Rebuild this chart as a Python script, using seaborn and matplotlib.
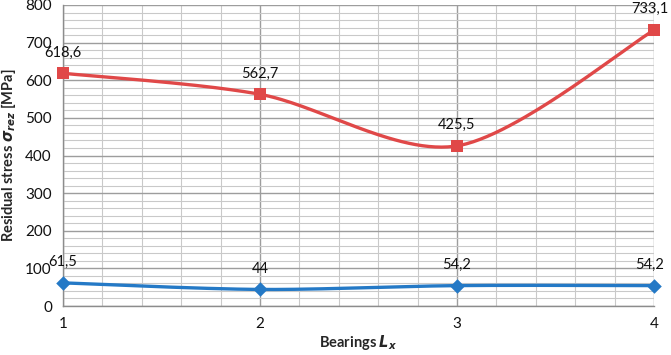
import numpy as np
import pandas as pd
import matplotlib
matplotlib.use("Agg")
import matplotlib.pyplot as plt
import seaborn as sns
from matplotlib.ticker import MultipleLocator

bearings = [1, 2, 3, 4]
red_values = [618.6, 562.7, 425.5, 733.1]
blue_values = [61.5, 44.0, 54.2, 54.2]
red_labels = ["618,6", "562,7", "425,5", "733,1"]
blue_labels = ["61,5", "44", "54,2", "54,2"]
y_ticks = [0, 100, 200, 300, 400, 500, 600, 700, 800]

RED = "#E04848"
BLUE = "#2479C6"

sns.set_theme(style="white")
plt.rcParams["font.family"] = ["Lato", "DejaVu Sans"]
plt.rcParams["mathtext.fontset"] = "custom"
plt.rcParams["mathtext.it"] = "DejaVu Sans:italic:bold"
plt.rcParams["mathtext.rm"] = "Lato:bold"


def smooth(xs, ys, k=1/6, n=60):
    """Excel-like smoothed line (Catmull-Rom Bezier) through the data points."""
    xs = np.asarray(xs, float); ys = np.asarray(ys, float)
    px = np.concatenate([[xs[0]], xs, [xs[-1]]])
    py = np.concatenate([[ys[0]], ys, [ys[-1]]])
    out_x, out_y = [], []
    t = np.linspace(0, 1, n)
    for i in range(1, len(px) - 2):
        x0, x1, x2, x3 = px[i-1], px[i], px[i+1], px[i+2]
        y0, y1, y2, y3 = py[i-1], py[i], py[i+1], py[i+2]
        cx1, cy1 = x1 + (x2 - x0) * k, y1 + (y2 - y0) * k
        cx2, cy2 = x2 - (x3 - x1) * k, y2 - (y3 - y1) * k
        bx = (1-t)**3*x1 + 3*(1-t)**2*t*cx1 + 3*(1-t)*t**2*cx2 + t**3*x2
        by = (1-t)**3*y1 + 3*(1-t)**2*t*cy1 + 3*(1-t)*t**2*cy2 + t**3*y2
        out_x.extend(bx); out_y.extend(by)
    return np.array(out_x), np.array(out_y)


fig = plt.figure(figsize=(6.71, 3.55), dpi=100)
ax = fig.add_axes([63/671, 1 - 306/355, (654-63)/671, (306-5)/355])

# grid
ax.xaxis.set_major_locator(MultipleLocator(1))
ax.xaxis.set_minor_locator(MultipleLocator(0.2))
ax.yaxis.set_major_locator(MultipleLocator(100))
ax.yaxis.set_minor_locator(MultipleLocator(20))
ax.grid(which="minor", color="#c9c9c9", linewidth=0.8, zorder=0)
ax.grid(which="major", color="#9d9d9d", linewidth=1.0, zorder=0)
ax.set_axisbelow(True)

for vals, color, marker, ms in [(red_values, RED, "s", 75), (blue_values, BLUE, "D", 55)]:
    sx, sy = smooth(bearings, vals, k=0.15)
    df_s = pd.DataFrame({"x": sx, "y": sy})
    sns.lineplot(data=df_s, x="x", y="y", sort=False, estimator=None, color=color,
                 linewidth=2.4, ax=ax, zorder=3)
    df = pd.DataFrame({"x": bearings, "y": vals})
    sns.scatterplot(data=df, x="x", y="y", marker=marker, s=ms, color=color,
                    edgecolor=color, linewidth=0, ax=ax, zorder=4, clip_on=False)

for vals, labels in [(red_values, red_labels), (blue_values, blue_labels)]:
    for i, (x, v, lab) in enumerate(zip(bearings, vals, labels)):
        dx = -3 if i == len(bearings) - 1 else 0
        ax.annotate(lab, (x, v), xytext=(dx, 15), textcoords="offset points",
                    ha="center", va="center", fontsize=10.5, color="#111111",
                    annotation_clip=False)

ax.set_xlim(1, 4)
ax.set_ylim(0, 800)
ax.set_xticks(bearings)
ax.set_xticklabels([str(b) for b in bearings])
ax.set_yticks(y_ticks)
ax.set_yticklabels([str(t) for t in y_ticks])

for side in ["top", "right"]:
    ax.spines[side].set_visible(False)
for side in ["left", "bottom"]:
    ax.spines[side].set_color("#8c8c8c")
    ax.spines[side].set_linewidth(1.0)

ax.tick_params(axis="both", which="major", direction="out", length=4, width=1,
               color="#8c8c8c", labelsize=11, labelcolor="#111111", pad=4)
ax.tick_params(axis="both", which="minor", length=0)

ax.set_xlabel(r"Bearings $L_x$", fontsize=10.5, fontweight="bold", labelpad=1)
ax.set_ylabel(r"Residual stress $\sigma_{rez}$ [MPa]", fontsize=10.5, fontweight="bold", labelpad=5)

fig.savefig("out.png", dpi=100)
